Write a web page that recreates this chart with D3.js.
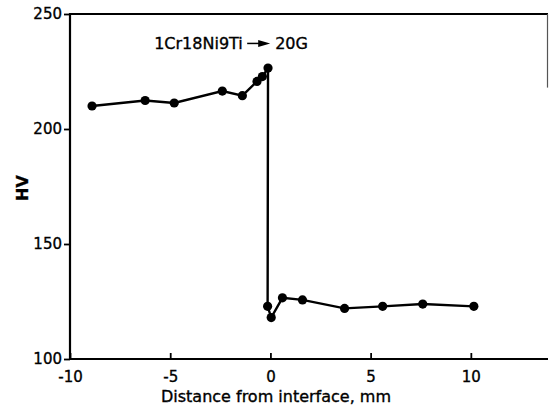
<!DOCTYPE html>
<html>
<head>
<meta charset="utf-8">
<script src="https://cdn.jsdelivr.net/npm/d3@7"></script>
<style>
    body { margin: 0; background: #fff; }
    svg { display: block; font-family: "DejaVu Sans", sans-serif; }
    text { stroke: #000; stroke-width: 0.35px; }
</style>
</head>
<body>
<svg id="drawing_region"></svg>
<script>
// distance from interface (mm) and Vickers hardness
const distance = [-8.9, -6.25, -4.8, -2.4, -1.4, -0.67, -0.4, -0.12,
                  -0.14, 0.04, 0.6, 1.6, 3.7, 5.6, 7.6, 10.15];
const hardness = [210, 212.4, 211.3, 216.5, 214.5, 220.7, 222.8, 226.5,
                  122.9, 118, 126.6, 125.7, 122, 122.9, 123.9, 122.9];

const xTicks = [-10, -5, 0, 5, 10];
const yTicks = [100, 150, 200, 250];

const xLabel = "Distance from interface, mm";
const yLabel = "HV";
const noteLeft = "1Cr18Ni9Ti";
const noteRight = "20G";

const config = {
    parent: "#drawing_region",
    width: 549,
    height: 409,
    margin: { top: 14, right: 1, bottom: 50, left: 70 }
};

const data = distance.map((d, i) => ({ x: d, y: hardness[i] }));

const svg = d3.select(config.parent)
    .attr("width", config.width)
    .attr("height", config.height);

const innerW = config.width - config.margin.left - config.margin.right;
const innerH = config.height - config.margin.top - config.margin.bottom;

const chart = svg.append("g")
    .attr("transform", `translate(${config.margin.left}, ${config.margin.top})`);

const x = d3.scaleLinear().domain([-10, 13.85]).range([0, innerW]);
const y = d3.scaleLinear().domain([100, 250]).range([innerH, 0]);

// axes
const xAxis = d3.axisBottom(x)
    .tickValues(xTicks)
    .tickSize(-6)
    .tickPadding(12)
    .tickFormat(d3.format("d"));

const yAxis = d3.axisLeft(y)
    .tickValues(yTicks)
    .tickSize(6)
    .tickPadding(2)
    .tickFormat(d3.format("d"));

const gx = chart.append("g")
    .attr("transform", `translate(0, ${innerH})`)
    .call(xAxis);

const gy = chart.append("g").call(yAxis);

[gx, gy].forEach(g => {
    g.select(".domain").remove();
    g.selectAll("line").attr("stroke", "#000").attr("stroke-width", 1.8);
    g.selectAll("text")
        .attr("fill", "#000")
        .attr("font-size", "15px")
        .attr("font-family", "DejaVu Sans, sans-serif");
});
gx.selectAll("text").text(d => d < 0 ? "-" + Math.abs(d) : d);

// frame: left, bottom, top, and a short piece of the right edge
chart.append("line")
    .attr("x1", 0).attr("x2", 0).attr("y1", -1).attr("y2", innerH + 1)
    .attr("stroke", "#000").attr("stroke-width", 2.2);
chart.append("line")
    .attr("x1", 0).attr("x2", innerW).attr("y1", innerH).attr("y2", innerH)
    .attr("stroke", "#000").attr("stroke-width", 2.2);
chart.append("line")
    .attr("x1", 0).attr("x2", innerW).attr("y1", 0).attr("y2", 0)
    .attr("stroke", "#000").attr("stroke-width", 2.2);
chart.append("line")
    .attr("x1", innerW - 0.5).attr("x2", innerW - 0.5)
    .attr("y1", 0).attr("y2", y(218))
    .attr("stroke", "#555").attr("stroke-width", 1.2);

// data line + markers
const line = d3.line()
    .x(d => x(d.x))
    .y(d => y(d.y));

chart.append("path")
    .datum(data)
    .attr("d", line)
    .attr("fill", "none")
    .attr("stroke", "#000")
    .attr("stroke-width", 2.4);

chart.selectAll("circle")
    .data(data)
    .enter()
    .append("circle")
    .attr("cx", d => x(d.x))
    .attr("cy", d => y(d.y))
    .attr("r", 4.6)
    .attr("fill", "#000");

// annotation
const note = chart.append("g")
    .attr("transform", `translate(${x(-5.8)}, ${y(237.2)})`);
note.append("text")
    .attr("x", 0).attr("dy", "0.35em")
    .attr("font-size", "16px")
    .attr("fill", "#000")
    .text(noteLeft);
note.append("line")
    .attr("x1", 93).attr("x2", 108).attr("y1", 0).attr("y2", 0)
    .attr("stroke", "#000").attr("stroke-width", 1.5);
note.append("path")
    .attr("d", "M104,-3.5 L116,0 L104,3.5 Z")
    .attr("fill", "#000");
note.append("text")
    .attr("x", 121).attr("dy", "0.35em")
    .attr("font-size", "16px")
    .attr("fill", "#000")
    .text(noteRight);

// axis titles
svg.append("text")
    .attr("x", 276)
    .attr("y", 396)
    .attr("dy", "0.35em")
    .attr("text-anchor", "middle")
    .attr("font-size", "16px")
    .attr("fill", "#000")
    .text(xLabel);

svg.append("text")
    .attr("transform", "translate(22, 188) rotate(-90)")
    .attr("dy", "0.35em")
    .attr("text-anchor", "middle")
    .attr("font-size", "16px")
    .attr("font-weight", "bold")
    .attr("fill", "#000")
    .text(yLabel);
</script>
</body>
</html>
